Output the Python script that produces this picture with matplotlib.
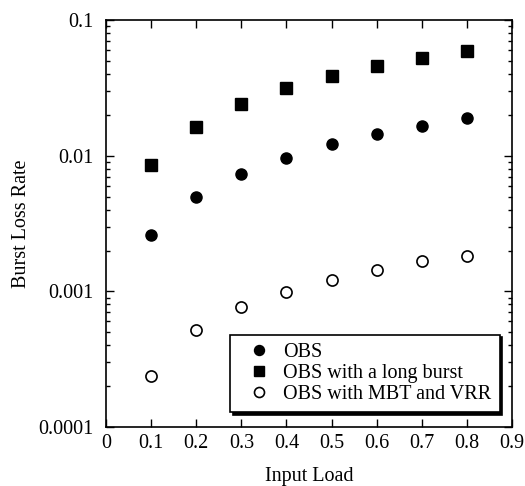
import numpy as np
import matplotlib
matplotlib.use('Agg')
import matplotlib.pyplot as plt
from matplotlib.ticker import LogLocator, NullFormatter

plt.rcParams['font.family'] = ['Liberation Serif', 'DejaVu Serif']

load = [0.1, 0.2, 0.3, 0.4, 0.5, 0.6, 0.7, 0.8]
obs = [0.0026, 0.00498, 0.00736, 0.00967, 0.0121, 0.0144, 0.0166, 0.019]
obs_long = [0.00854, 0.0164, 0.0242, 0.0316, 0.0389, 0.0457, 0.0527, 0.0594]
obs_mbt = [0.000238, 0.000521, 0.000762, 0.000983, 0.00121, 0.00144, 0.00166, 0.00183]

x_ticks = [0, 0.1, 0.2, 0.3, 0.4, 0.5, 0.6, 0.7, 0.8, 0.9]
x_ticklabels = ['0', '0.1', '0.2', '0.3', '0.4', '0.5', '0.6', '0.7', '0.8', '0.9']
y_ticks = [0.0001, 0.001, 0.01, 0.1]
y_ticklabels = ['0.0001', '0.001', '0.01', '0.1']

fig = plt.figure(figsize=(5.25, 4.86), dpi=100)
ax = fig.add_axes([0.202, 0.1214, 0.773, 0.8374])

ax.plot(load, obs, 'o', color='black', ms=8, label='OBS')
ax.plot(load, obs_long, 's', color='black', ms=8, label='OBS with a long burst')
ax.plot(load, obs_mbt, 'o', mfc='white', mec='black', mew=1.2, ms=8,
        label='OBS with MBT and VRR')

ax.set_yscale('log')
ax.set_xlim(0, 0.9)
ax.set_ylim(0.0001, 0.1)
ax.set_xticks(x_ticks)
ax.set_xticklabels(x_ticklabels)
ax.set_yticks(y_ticks)
ax.set_yticklabels(y_ticklabels)
ax.yaxis.set_minor_locator(LogLocator(base=10, subs=np.arange(2, 10)))
ax.yaxis.set_minor_formatter(NullFormatter())

ax.tick_params(which='both', direction='in', top=True, right=True, labelsize=14.5, width=1)
ax.tick_params(which='major', length=6)
ax.tick_params(which='minor', length=3)
ax.tick_params(axis='x', which='major', pad=5)
ax.tick_params(axis='y', which='major', pad=9)
for s in ax.spines.values():
    s.set_linewidth(1.2)

ax.set_xlabel('Input Load', fontsize=14.5, labelpad=10)
ax.set_ylabel('Burst Loss Rate', fontsize=14.5, labelpad=5)

leg = ax.legend(loc='lower right', bbox_to_anchor=(0.97, 0.037), borderaxespad=0,
                fancybox=False, edgecolor='black', framealpha=1, fontsize=14.5,
                labelspacing=0.1, handletextpad=0.15, handlelength=2.1,
                borderpad=0.4, markerscale=0.9,
                shadow={'color': 'black', 'alpha': 1})
leg.get_frame().set_linewidth(1.2)

fig.savefig('out.png', dpi=100)
